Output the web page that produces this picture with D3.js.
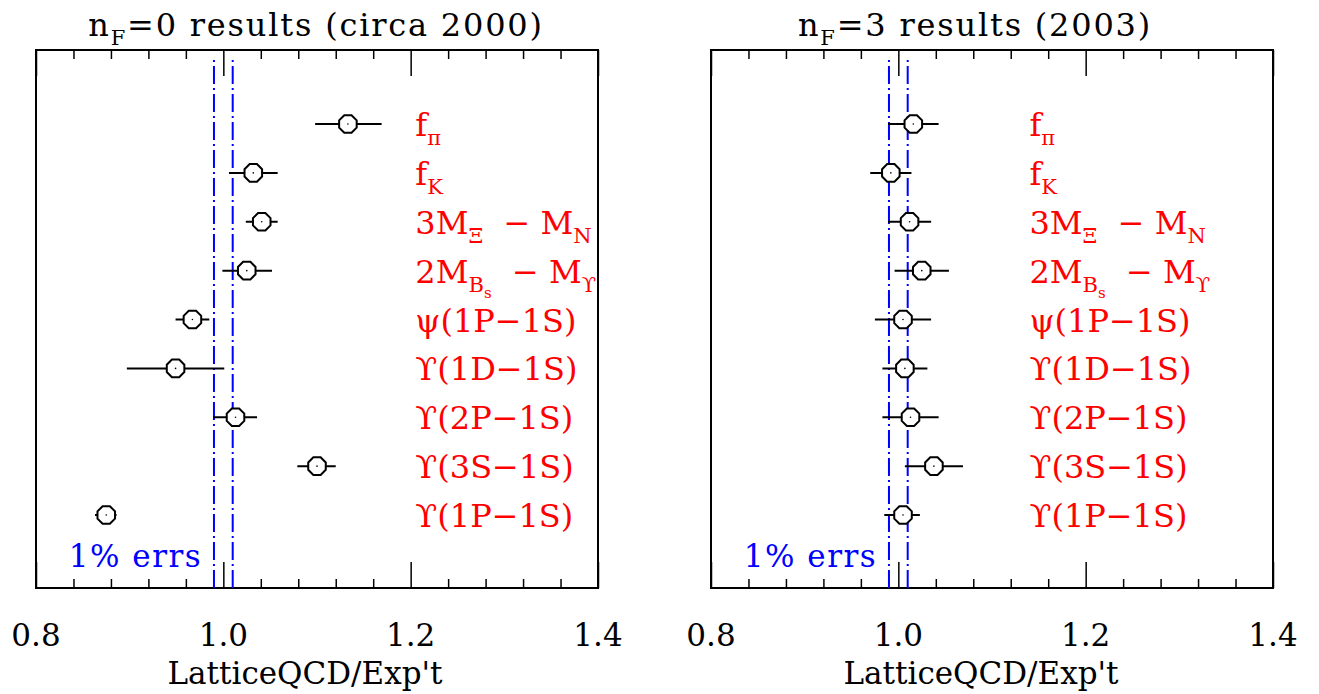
<!DOCTYPE html>
<html>
<head>
<meta charset="utf-8">
<script src="https://cdn.jsdelivr.net/npm/d3@7"></script>
<style>
  body { margin: 0; background: #fff; }
  text { font-family: "DejaVu Serif", serif; white-space: pre; }
</style>
</head>
<body>
<script>
// rows, top to bottom
const rows = ["fpi", "fK", "3MXi-MN", "2MBs-MUps", "psi1P1S", "Ups1D1S", "Ups2P1S", "Ups3S1S", "Ups1P1S"];

// label pieces: [text, level] (0 = normal, 1 = subscript, 2 = sub-subscript)
const labels = [
  [["f", 0], ["π", 1]],
  [["f", 0], ["K", 1]],
  [["3M", 0], ["Ξ", 1], ["  − M", 0], ["N", 1]],
  [["2M", 0], ["B", 1], ["s", 2], ["  − M", 0], ["ϒ", 1]],
  [["ψ(1P−1S)", 0]],
  [["ϒ(1D−1S)", 0]],
  [["ϒ(2P−1S)", 0]],
  [["ϒ(3S−1S)", 0]],
  [["ϒ(1P−1S)", 0]]
];

// n_F = 0 (quenched, circa 2000)
const nf0Val = [1.133, 1.032, 1.041, 1.025, 0.967, 0.949, 1.013, 1.100, 0.875];
const nf0Lo  = [1.098, 1.006, 1.024, 0.999, 0.949, 0.897, 0.989, 1.079, 0.863];
const nf0Hi  = [1.169, 1.058, 1.058, 1.052, 0.985, 1.001, 1.036, 1.120, 0.886];

// n_F = 3 (2003)
const nf3Val = [1.016, 0.992, 1.012, 1.025, 1.005, 1.007, 1.013, 1.038, 1.005];
const nf3Lo  = [0.989, 0.970, 0.989, 0.996, 0.975, 0.983, 0.983, 1.007, 0.985];
const nf3Hi  = [1.043, 1.014, 1.035, 1.054, 1.035, 1.031, 1.043, 1.069, 1.023];

const majorTicks = [0.8, 1.0, 1.2, 1.4];
const majorLabels = ["0.8", "1.0", "1.2", "1.4"];
const minorTicks = [0.84, 0.88, 0.92, 0.96, 1.04, 1.08, 1.12, 1.16, 1.24, 1.28, 1.32, 1.36];
const errBand = [0.99, 1.01];

const W = 1319, H = 694;
const frameTop = 50, frameBottom = 588;

const svg = d3.select("body").append("svg")
  .attr("width", W)
  .attr("height", H);

const octagon = d3.line().curve(d3.curveLinearClosed);
const octPts = d3.range(8).map(i => {
  const a = (i * 45 + 22.5) * Math.PI / 180;
  return [9.5 * Math.cos(a), 9.5 * Math.sin(a)];
});

function richText(sel, parts) {
  const off = [0, 9, 15];
  const size = [32, 21, 15];
  let cur = 0;
  parts.forEach(([t, lv]) => {
    sel.append("tspan")
      .attr("dy", off[lv] - cur)
      .attr("font-size", size[lv])
      .text(t);
    cur = off[lv];
  });
}

function panel(x0, x1, title, vals, lo, hi, labelAt, titleX, axisLabX) {
  const x = d3.scaleLinear().domain([0.8, 1.4]).range([x0, x1]);
  const y = d3.scalePoint().domain(rows).range([124, 515]);
  const g = svg.append("g");

  // frame
  g.append("rect")
    .attr("x", x0).attr("y", frameTop)
    .attr("width", x1 - x0).attr("height", frameBottom - frameTop)
    .attr("fill", "none").attr("stroke", "#000").attr("stroke-width", 2);

  // ticks top & bottom
  const tk = (axis, yy, vals, len) => {
    const a = g.append("g").attr("transform", `translate(0,${yy})`)
      .call(axis(x).tickValues(vals).tickSize(-len).tickFormat(""));
    a.select(".domain").remove();
    a.selectAll("line").attr("stroke-width", 1.5);
  };
  tk(d3.axisBottom, frameBottom, majorTicks, 26);
  tk(d3.axisBottom, frameBottom, minorTicks, 9);
  tk(d3.axisTop, frameTop, majorTicks, 26);
  tk(d3.axisTop, frameTop, minorTicks, 9);

  // tick labels
  g.selectAll(".tl").data(majorTicks).enter().append("text")
    .attr("x", d => x(d))
    .attr("y", 646)
    .attr("text-anchor", "middle")
    .attr("font-size", 31)
    .text((d, i) => majorLabels[i]);

  // 1% band
  g.selectAll(".band").data(errBand).enter().append("line")
    .attr("x1", d => x(d)).attr("x2", d => x(d))
    .attr("y1", frameBottom).attr("y2", frameTop + 8)
    .attr("stroke", "#0000ff").attr("stroke-width", 2)
    .attr("stroke-dasharray", "18,4,2,4");

  // error bars
  g.selectAll(".eb").data(rows).enter().append("line")
    .attr("x1", (d, i) => x(lo[i])).attr("x2", (d, i) => x(hi[i]))
    .attr("y1", d => y(d)).attr("y2", d => y(d))
    .attr("stroke", "#000").attr("stroke-width", 2);

  // markers
  const m = g.selectAll(".pt").data(rows).enter().append("g")
    .attr("transform", (d, i) => `translate(${x(vals[i])},${y(d)})`);
  m.append("path").attr("d", octagon(octPts))
    .attr("fill", "#fff").attr("stroke", "#000").attr("stroke-width", 2);
  m.append("circle").attr("r", 0.8).attr("fill", "#000");

  // labels
  g.selectAll(".lab").data(rows).enter().append("text")
    .attr("x", x(labelAt))
    .attr("y", d => y(d) + 12)
    .attr("fill", "#ff0000")
    .each(function(d, i) { richText(d3.select(this), labels[i]); });

  g.append("text")
    .attr("x", x(0.835)).attr("y", 567)
    .attr("fill", "#0000ff").attr("font-size", 31)
    .attr("letter-spacing", 1.5)
    .text("1% errs");

  // title
  const t = g.append("text")
    .attr("x", titleX).attr("y", 36)
    .attr("text-anchor", "middle")
    .attr("font-size", 32)
    .attr("letter-spacing", 1.8);
  t.append("tspan").text("n");
  t.append("tspan").attr("dy", 9).attr("font-size", 21).text("F");
  t.append("tspan").attr("dy", -9).text(title);

  g.append("text")
    .attr("x", axisLabX).attr("y", 684)
    .attr("text-anchor", "middle")
    .attr("font-size", 31)
    .text("LatticeQCD/Exp't");
}

panel(36, 598, "=0 results (circa 2000)", nf0Val, nf0Lo, nf0Hi, 1.205, 316, 305);
panel(711, 1273, "=3 results (2003)", nf3Val, nf3Lo, nf3Hi, 1.14, 975, 981);
</script>
</body>
</html>
